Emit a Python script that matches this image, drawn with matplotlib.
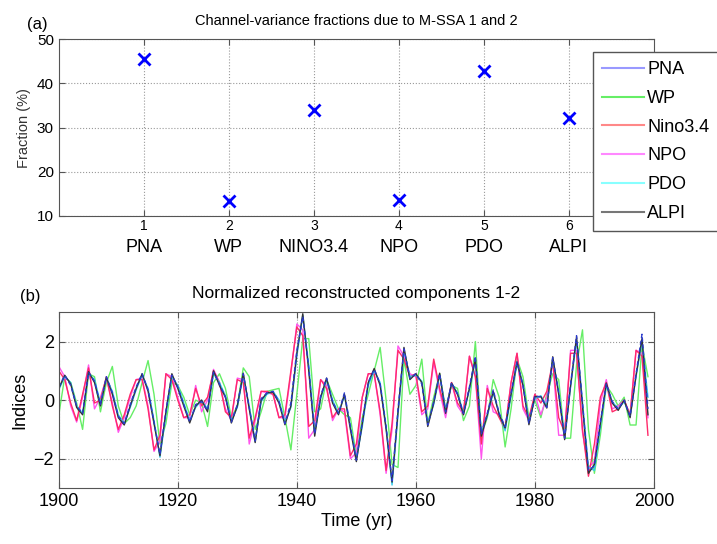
import numpy as np
import matplotlib
matplotlib.use("Agg")
import matplotlib.pyplot as plt
import matplotlib.lines as mlines

plt.rcParams['font.family'] = ['Liberation Sans', 'DejaVu Sans']

# panel (a): variance fractions
channels = ["PNA", "WP", "NINO3.4", "NPO", "PDO", "ALPI"]
channel_idx = [1, 2, 3, 4, 5, 6]
fractions = [45.5, 13.4, 34.0, 13.6, 42.8, 32.1]

# panel (b): reconstructed components, 1900-1999
years = np.arange(1900, 2000)
alpi = [0.4, 0.85, 0.55, -0.25, -0.5, 0.97, 0.6, -0.2, 0.78, 0.2,
        -0.6, -0.85, -0.2, 0.4, 0.9, 0.3, -0.8, -1.9, -0.4, 0.9,
        0.4, -0.2, -0.78, -0.2, 0.0, -0.4, 1.0, 0.5, 0.1, -0.78,
        -0.2, 0.92, -0.3, -1.45, 0.0, 0.25, 0.27, -0.1, -0.84, -0.2,
        1.6, 2.95, 1.0, -1.23, 0.1, 0.75, -0.1, -0.5, 0.2, -1.0,
        -2.1, -0.8, 0.6, 1.08, 0.5, -1.0, -2.8, -0.4, 1.8, 0.7,
        0.9, 0.6, -0.9, -0.1, 0.92, -0.45, 0.58, 0.2, -0.5, 0.4,
        1.4, -1.23, -0.5, 0.3, -0.5, -0.95, 0.2, 1.3, 0.5, -0.84,
        0.12, 0.12, -0.27, 1.48, 0.2, -1.35, 0.5, 2.16, -0.2, -2.5,
        -2.2, -0.8, 0.58, -0.1, -0.35, 0.0, -0.6, 0.85, 2.1, -0.5]
pna = [0.45, 0.85, 0.5, -0.2, -0.45, 0.95, 0.65, -0.15, 0.8, 0.25,
       -0.55, -0.8, -0.15, 0.45, 0.9, 0.35, -0.75, -1.85, -0.35, 0.85,
       0.45, -0.15, -0.75, -0.15, -0.05, -0.35, 0.95, 0.55, 0.1, -0.75,
       -0.15, 0.9, -0.25, -1.4, 0.05, 0.25, 0.3, -0.05, -0.8, -0.1,
       1.7, 2.85, 1.1, -1.15, 0.15, 0.75, -0.05, -0.45, 0.25, -0.9,
       -2.05, -0.75, 0.6, 1.05, 0.55, -0.9, -2.75, -0.3, 1.75, 0.75,
       0.9, 0.55, -0.85, -0.05, 0.9, -0.4, 0.6, 0.2, -0.45, 0.45,
       1.5, -1.15, -0.45, 0.35, -0.45, -0.9, 0.25, 1.3, 0.5, -0.8,
       0.15, 0.1, -0.25, 1.45, 0.25, -1.3, 0.55, 2.2, -0.1, -2.4,
       -2.25, -0.75, 0.55, -0.05, -0.3, 0.0, -0.55, 0.9, 2.25, -0.3]
pdo = [0.35, 0.8, 0.6, -0.2, -0.45, 0.9, 0.7, -0.1, 0.75, 0.3,
       -0.5, -0.8, -0.25, 0.35, 0.85, 0.4, -0.7, -1.95, -0.5, 0.8,
       0.5, -0.1, -0.7, -0.25, 0.0, -0.3, 0.9, 0.6, 0.15, -0.7,
       -0.25, 0.85, -0.2, -1.4, -0.05, 0.2, 0.3, 0.0, -0.75, -0.25,
       1.5, 2.9, 1.2, -1.1, 0.05, 0.7, 0.0, -0.45, 0.15, -0.9,
       -2.0, -0.9, 0.5, 1.0, 0.6, -0.9, -2.9, -0.5, 1.7, 0.8,
       0.85, 0.65, -0.8, -0.15, 0.85, -0.35, 0.55, 0.25, -0.45, 0.35,
       1.35, -1.1, -0.55, 0.25, -0.45, -1.05, 0.15, 1.25, 0.55, -0.75,
       0.05, 0.15, -0.2, 1.4, 0.3, -1.25, 0.45, 2.05, -0.05, -2.3,
       -2.4, -0.9, 0.5, -0.05, -0.3, -0.05, -0.55, 0.8, 2.0, 0.1]
nino34 = [1.0, 0.7, -0.1, -0.7, 0.2, 1.1, -0.1, 0.0, 0.8, -0.2,
          -1.0, -0.5, 0.2, 0.7, 0.7, -0.3, -1.7, -1.2, 0.9, 0.7,
          0.0, -0.6, -0.5, 0.4, -0.2, 0.1, 1.0, 0.6, -0.4, -0.6,
          0.7, 0.6, -1.3, -0.6, 0.3, 0.3, 0.2, -0.6, -0.5, 1.0,
          2.5, 2.2, -0.9, -0.7, 0.7, 0.4, -0.6, -0.3, -0.3, -1.9,
          -1.5, 0.1, 0.9, 0.9, -0.4, -2.4, -0.8, 1.7, 1.4, 0.8,
          0.9, -0.4, -0.2, 1.4, 0.4, -0.4, 0.6, -0.1, -0.4, 1.5,
          0.8, -1.5, 0.4, -0.2, -0.6, -1.0, 0.6, 1.6, -0.2, -0.6,
          0.2, -0.1, 0.3, 1.3, -0.6, -1.1, 1.6, 1.6, -1.0, -2.6,
          -1.5, 0.1, 0.6, -0.4, -0.3, 0.0, -0.5, 1.7, 1.5, -1.2]
npo = [1.15, 0.8, -0.2, -0.75, 0.1, 1.2, -0.3, 0.1, 0.75, -0.1,
       -1.1, -0.6, 0.1, 0.7, 0.75, -0.2, -1.75, -1.4, 0.9, 0.8,
       0.1, -0.6, -0.6, 0.5, -0.4, 0.0, 1.05, 0.6, -0.3, -0.7,
       0.75, 0.7, -1.5, -0.7, 0.3, 0.25, 0.2, -0.6, -0.6, 0.9,
       2.6, 2.4, -1.3, -1.0, 0.7, 0.5, -0.7, -0.3, -0.4, -2.0,
       -1.8, 0.1, 0.9, 0.9, -0.5, -2.5, -1.0, 1.85, 1.5, 0.9,
       0.8, -0.5, -0.3, 1.3, 0.3, -0.6, 0.6, -0.2, -0.5, 1.5,
       0.8, -2.0, 0.5, -0.4, -0.5, -1.0, 0.6, 1.6, -0.3, -0.7,
       0.2, -0.5, 0.1, 1.3, -1.2, -1.2, 1.7, 1.7, -1.1, -2.3,
       -2.1, -0.1, 0.7, -0.3, -0.2, 0.0, -0.5, 1.7, 1.6, -0.6]
wp = [-0.5, 0.8, 0.6, -0.1, -1.0, 0.9, 0.8, -0.4, 0.6, 1.15,
      -0.2, -0.8, -0.6, -0.2, 0.6, 1.35, 0.2, -1.5, -0.8, 0.6,
      0.5, 0.1, -0.5, 0.0, -0.1, -0.9, 0.6, 0.9, 0.4, -0.6,
      -0.2, 1.1, 0.8, -1.0, -0.4, 0.3, 0.35, 0.4, -0.6, -1.7,
      0.2, 2.1, 2.1, -0.4, -0.3, 0.7, 0.2, -0.3, -0.5, -0.6,
      -1.9, -0.6, 0.2, 1.0, 1.8, 0.0, -2.2, -2.3, 1.4, 0.2,
      0.5, 1.4, -0.8, 0.1, 0.9, -0.3, 0.5, 0.4, -0.7, -0.2,
      2.0, -1.2, -0.6, 0.7, 0.1, -1.6, -0.3, 1.4, 0.8, -0.6,
      0.0, -0.6, 0.2, 0.9, 0.7, -1.3, -1.3, 1.2, 2.4, -1.0,
      -2.5, -1.2, 0.5, 0.2, -0.2, 0.1, -0.85, -0.85, 1.9, 0.8]

series = [("WP", wp, "#66ee66", "-"),
          ("NPO", npo, "#ff55ee", "-"),
          ("Nino3.4", nino34, "#ff2a6a", "-"),
          ("PDO", pdo, "#33ccee", "-"),
          ("ALPI", alpi, "#333333", "-"),
          ("PNA", pna, "#2a3acc", (0, (3, 2)))]
legend_items = [("PNA", "#9999ff"), ("WP", "#66ee66"), ("Nino3.4", "#ff8888"),
                ("NPO", "#ff88ff"), ("PDO", "#88ffff"), ("ALPI", "#777777")]

fig = plt.figure(figsize=(7.17, 5.44), dpi=100)
spine_col = "#555555"

# ---- (a)
ax1 = fig.add_axes([0.082, 0.603, 0.830, 0.325])
ax1.plot(channel_idx, fractions, "x", color="#0000ff", markersize=8, mew=2)
ax1.set_xlim(0, 7)
ax1.set_ylim(10, 50)
ax1.set_xticks(channel_idx)
ax1.set_xticklabels([str(i) for i in channel_idx], fontsize=10)
ax1.set_yticks([10, 20, 30, 40, 50])
ax1.tick_params(labelsize=11)
ax1.tick_params(axis="x", labelsize=10, pad=2)
for i, name in zip(channel_idx, channels):
    ax1.text(i, -0.18, name, transform=ax1.get_xaxis_transform(),
             ha="center", va="center", fontsize=13)
ax1.set_ylabel("Fraction (%)", fontsize=10.5, color="#333333")
ax1.set_title("Channel-variance fractions due to M-SSA 1 and 2", fontsize=10.5, pad=10)
fig.text(0.038, 0.955, "(a)", fontsize=12, ha="left", va="center")

# ---- (b)
ax2 = fig.add_axes([0.082, 0.103, 0.830, 0.323])
for name, vals, col, ls in series:
    ax2.plot(years, vals, color=col, linestyle=ls, linewidth=1.0)
ax2.set_xlim(1900, 2000)
ax2.set_ylim(-3, 3)
ax2.set_xticks([1900, 1920, 1940, 1960, 1980, 2000])
ax2.set_yticks([-2, 0, 2])
ax2.tick_params(labelsize=13)
ax2.set_xlabel("Time (yr)", fontsize=13, labelpad=2)
ax2.set_ylabel("Indices", fontsize=13)
ax2.set_title("Normalized reconstructed components 1-2", fontsize=12.5, pad=10)
fig.text(0.028, 0.455, "(b)", fontsize=12, ha="left", va="center")

for ax in (ax1, ax2):
    ax.grid(True, linestyle=":", color="#999999", linewidth=0.8)
    ax.tick_params(direction="in", top=True, right=True, color=spine_col, length=4)
    for sp in ax.spines.values():
        sp.set_color(spine_col)

handles = [mlines.Line2D([], [], color=c, linewidth=1.5, label=n) for n, c in legend_items]
fig.legend(handles=handles, loc="upper left", bbox_to_anchor=(0.827, 0.904),
           borderaxespad=0, fontsize=13, handlelength=2.3, handletextpad=0.2,
           labelspacing=0.65, borderpad=0.5,
           fancybox=False, edgecolor="#555555", framealpha=1)

plt.savefig("out.png", dpi=100)
